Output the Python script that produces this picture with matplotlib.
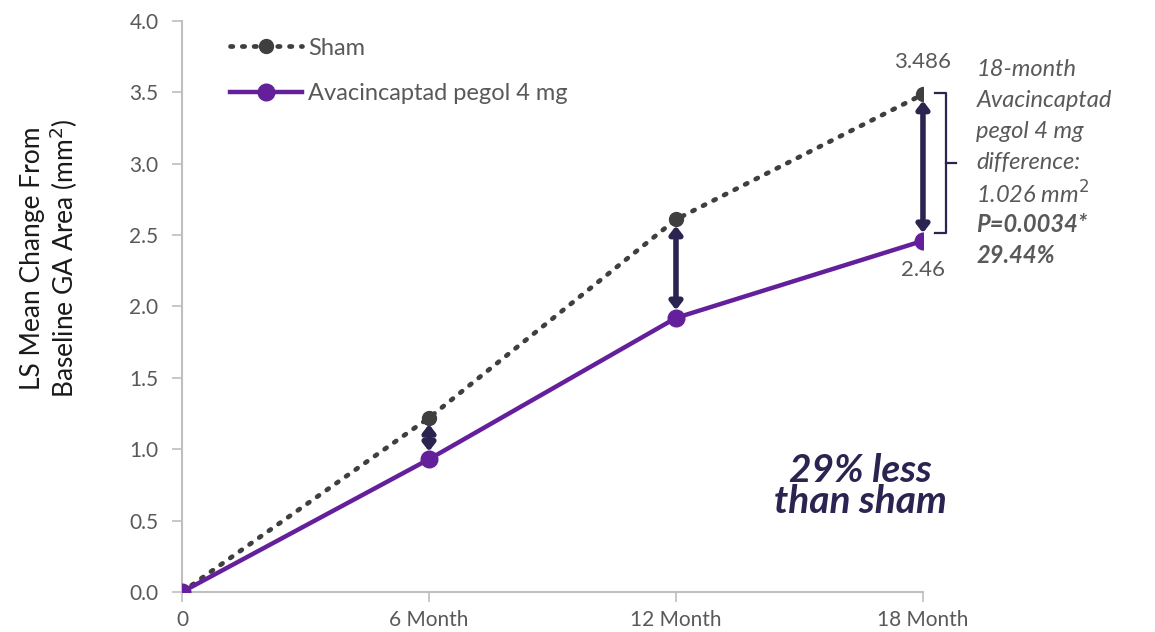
import matplotlib.pyplot as plt

plt.rcParams['font.family'] = ['Lato', 'DejaVu Sans']

months = [0, 6, 12, 18]
tick_labels = ['0', '6 Month', '12 Month', '18 Month']
sham = [0.0, 1.22, 2.61, 3.486]
avacincaptad = [0.0, 0.93, 1.92, 2.46]

note_lines = ['18-month', 'Avacincaptad', 'pegol 4 mg', 'difference:', '1.026 mm$^2$',
              'P=0.0034*', '29.44%']
note_bold = [False, False, False, False, False, True, True]

purple = '#64209b'
navy = '#2b2450'
gray_txt = '#595959'

fig = plt.figure(figsize=(11.55, 6.32), dpi=100)
ax = fig.add_axes([0.1576, 0.0633, 0.6415, 0.9035])

ax.plot(months, sham, linestyle=(0, (0.5, 2.0)), dash_capstyle='round', color='#3f3f3f',
        lw=3.4, marker='o', markersize=10, markerfacecolor='#3f3f3f',
        markeredgecolor='#3f3f3f', label='Sham', zorder=3)
ax.plot(months, avacincaptad, color=purple, lw=3.2, marker='o', markersize=12,
        label='Avacincaptad pegol 4 mg', zorder=4)

# double arrows between the two groups
for m, s, a in zip(months[1:], sham[1:], avacincaptad[1:]):
    ax.annotate('', xy=(m, a + 0.055), xytext=(m, s - 0.045),
                arrowprops=dict(arrowstyle='<|-|>,head_length=0.45,head_width=0.35',
                                color=navy, lw=4, shrinkA=0, shrinkB=0), zorder=2)

ax.text(18, 3.71, '3.486', ha='center', va='center', fontsize=16, color=gray_txt)
ax.text(18, 2.256, '2.46', ha='center', va='center', fontsize=16, color=gray_txt)

# bracket
bx = 18.55
ax.plot([bx - 0.25, bx, bx, bx - 0.25], [3.496, 3.496, 2.515, 2.515], color=navy,
        lw=1.6, clip_on=False)
ax.plot([bx, bx + 0.25], [3.005, 3.005], color=navy, lw=1.6, clip_on=False)

for i, (line, bold) in enumerate(zip(note_lines, note_bold)):
    ax.text(19.3, 3.657 - i * 0.217, line, ha='left', va='center', fontsize=17,
            style='italic', weight='bold' if bold else 'normal', color=gray_txt,
            clip_on=False)

ax.text(16.47, 0.743, '29% less\nthan sham', ha='center', va='center', fontsize=28,
        style='italic', weight='bold', color=navy, linespacing=0.85)

ax.set_xlim(0, 18)
ax.set_ylim(0, 4.0)
ax.set_xticks(months)
ax.set_xticklabels(tick_labels)
ax.set_yticks([0, 0.5, 1.0, 1.5, 2.0, 2.5, 3.0, 3.5, 4.0])
ax.set_yticklabels(['0.0', '0.5', '1.0', '1.5', '2.0', '2.5', '3.0', '3.5', '4.0'])
ax.tick_params(colors=gray_txt, labelsize=15, length=7, width=1.2)
ax.tick_params(axis='y', pad=10)
ax.tick_params(axis='x', pad=6)
ax.tick_params(axis='both', color='#bfbfbf')
for side in ['top', 'right']:
    ax.spines[side].set_visible(False)
for side in ['left', 'bottom']:
    ax.spines[side].set_color('#bfbfbf')
    ax.spines[side].set_linewidth(1.5)

ax.set_ylabel('LS Mean Change From\nBaseline GA Area (mm$^2$)', fontsize=19,
              color='#1a1a1a', linespacing=1.1, va='center')
ax.yaxis.set_label_coords(-0.178, 0.585)

leg = ax.legend(loc='upper left', bbox_to_anchor=(0.036, 1.008), frameon=False,
                fontsize=17, handlelength=3.05, labelspacing=1.05, handletextpad=0.25)
for t in leg.get_texts():
    t.set_color(gray_txt)

fig.savefig('out.png', dpi=100)
